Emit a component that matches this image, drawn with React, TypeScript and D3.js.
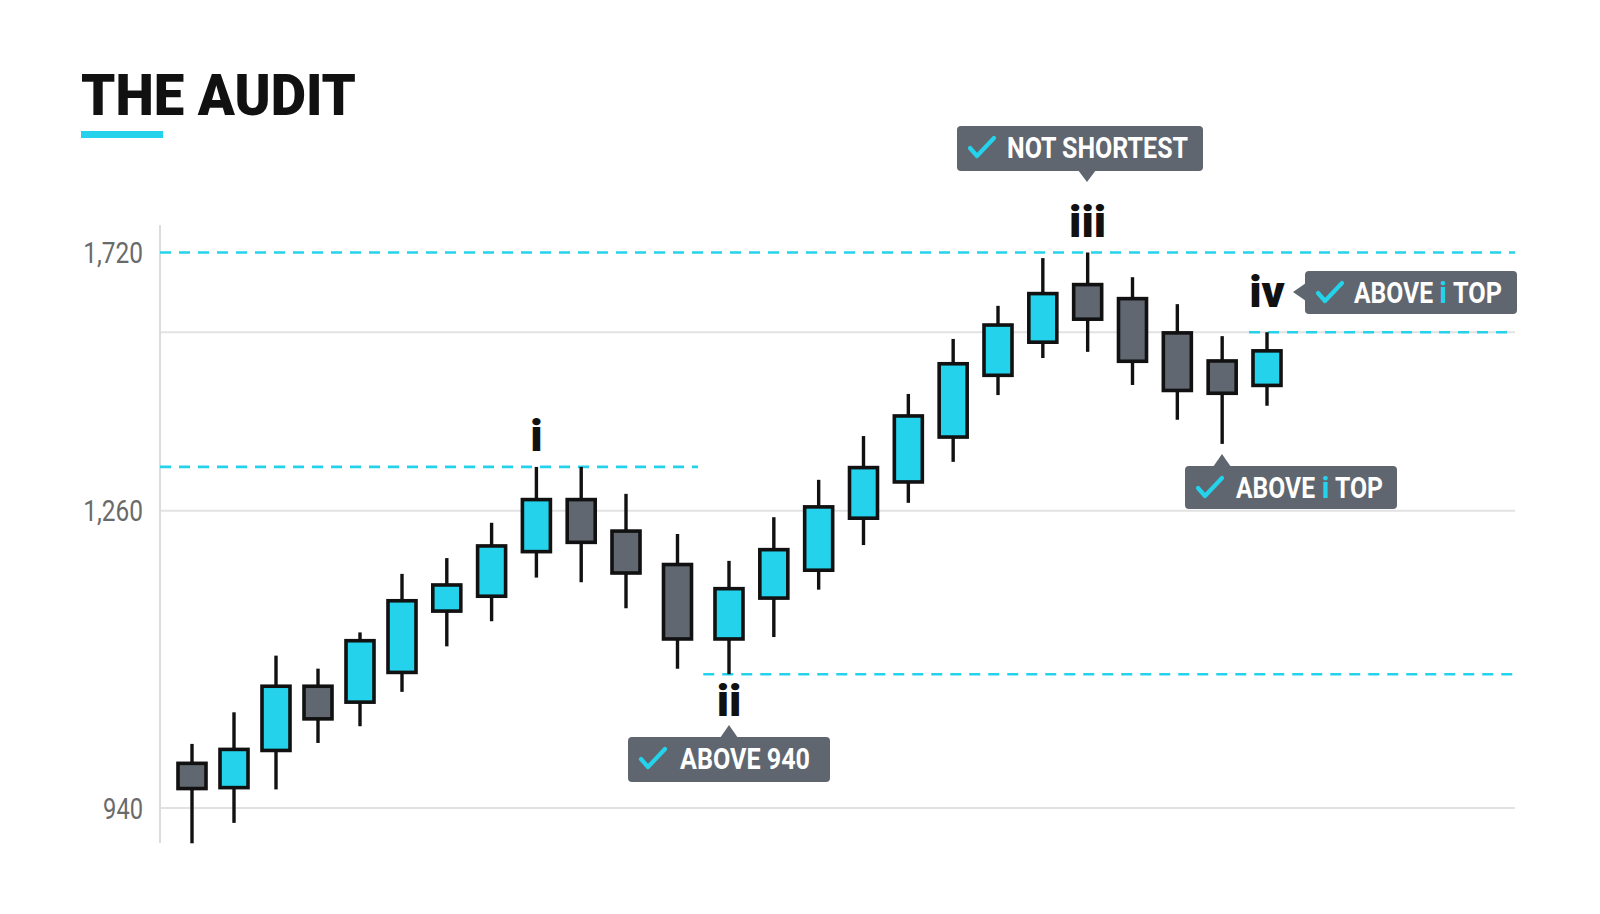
import React from "react";
import * as d3 from "d3";

// ---- data ----
const candleIndex = d3.range(25);
const opens = [990, 960, 1000, 1073, 1052, 1084, 1150, 1166, 1214, 1283, 1240, 1204, 1120, 1164, 1194, 1250, 1308, 1388, 1498, 1557, 1666, 1641, 1580, 1530, 1480];
const highs = [1009, 1043, 1104, 1090, 1129, 1192, 1209, 1247, 1338, 1338, 1290, 1235, 1206, 1253, 1315, 1393, 1468, 1566, 1625, 1710, 1720, 1676, 1628, 1571, 1578];
const lows = [902, 924, 960, 1010, 1028, 1065, 1114, 1141, 1188, 1183, 1155, 1090, 1084, 1124, 1175, 1223, 1274, 1347, 1466, 1532, 1543, 1484, 1422, 1379, 1447];
const closes = [959, 1005, 1073, 1034, 1122, 1165, 1182, 1224, 1283, 1224, 1191, 1120, 1178, 1220, 1270, 1340, 1432, 1525, 1594, 1650, 1598, 1523, 1471, 1466, 1548];

const yTickValues = [940, 1260, 1720];
const gridValues = [940, 1260, 1578];

const waveLabels = ["i", "ii", "iii", "iv"];
const waveCandles = [8, 12, 20, 24];

const levelValues = [1720, 1338, 1084, 1578];

// callout texts: each part = [text, highlighted]
const calloutParts: [string, boolean][][] = [
  [["NOT SHORTEST", false]],
  [["ABOVE 940", false]],
  [["ABOVE", false], ["i", true], ["TOP", false]],
  [["ABOVE", false], ["i", true], ["TOP", false]],
];

// ---- layout / style ----
const W = 1600;
const H = 914;
const PLOT_LEFT = 160;
const PLOT_RIGHT = 1515;
const CYAN = "#24d3eb";
const GREY = "#606771";
const BOX = "#60666f";
const FONT = "Roboto, 'Noto Sans', sans-serif";

const y = d3.scaleLinear().domain([940, 1260, 1720]).range([808, 510.7, 252.5]);
const x = d3.scaleLinear().domain([0, 5, 10, 12, 24]).range([192, 402, 626, 729, 1267]);
const fmt = d3.format(",");

const BODY_W = 28;
const STROKE = 3.6;

// level line extents (in candle-index units, null = plot edge)
const levelExtents: [number | null, number | null][] = [
  [null, null],
  [null, 11.4],
  [11.5, null],
  [23.6, null],
];

// callout boxes and text-part offsets/lengths (len 0 = natural width, centred)
const calloutLayout = [
  { bx: 957, by: 126, bw: 246, bh: 45, side: "down", px: 1087, py: 0, offs: [50], lens: [181] },
  { bx: 628, by: 737, bw: 202, bh: 45, side: "up", px: 729, py: 0, offs: [52], lens: [130] },
  { bx: 1305, by: 271, bw: 212, bh: 43, side: "left", px: 0, py: 292, offs: [49, 138, 148], lens: [79, 0, 49] },
  { bx: 1185, by: 466, bw: 212, bh: 43, side: "up", px: 1222, py: 0, offs: [51, 140.5, 150], lens: [79, 0, 48] },
];

function Callout({ i }: { i: number }) {
  const L = calloutLayout[i];
  const parts = calloutParts[i];
  let tri = "";
  if (L.side === "down") {
    const b = L.by + L.bh;
    tri = `M${L.px - 9},${b - 1} L${L.px + 9},${b - 1} L${L.px},${b + 11} Z`;
  } else if (L.side === "up") {
    tri = `M${L.px - 9},${L.by + 1} L${L.px + 9},${L.by + 1} L${L.px},${L.by - 12} Z`;
  } else {
    tri = `M${L.bx + 1},${L.py - 9} L${L.bx + 1},${L.py + 9} L${L.bx - 12},${L.py} Z`;
  }
  const cx = L.bx + 13;
  const cy = L.by + 11;
  return (
    <g>
      <rect x={L.bx} y={L.by} width={L.bw} height={L.bh} rx={4} fill={BOX} />
      <path d={tri} fill={BOX} />
      <path
        d={`M${cx},${cy + 11} L${cx + 7},${cy + 19} L${cx + 24},${cy + 1}`}
        fill="none"
        stroke={CYAN}
        strokeWidth={4.2}
        strokeLinecap="round"
        strokeLinejoin="round"
      />
      {parts.map((p, k) => {
        const len = L.lens[k];
        return (
          <text
            key={k}
            x={L.bx + L.offs[k]}
            y={L.by + 32}
            fontFamily={FONT}
            fontWeight={700}
            fontSize={29}
            fill={p[1] ? CYAN : "#ffffff"}
            textAnchor={len ? "start" : "middle"}
            {...(len ? { textLength: len, lengthAdjust: "spacingAndGlyphs" } : {})}
          >
            {p[0]}
          </text>
        );
      })}
    </g>
  );
}

function labelLen(s: string) {
  const digits = s.replace(/[^0-9]/g, "").length;
  const commas = s.length - digits;
  return digits * 13.3 + commas * 6.5;
}

export default function App() {
  return (
    <svg
      width={W}
      height={H}
      viewBox={`0 0 ${W} ${H}`}
      style={{ position: "fixed", left: 0, top: 0, background: "#ffffff" }}
    >
      <rect width={W} height={H} fill="#ffffff" />
      {/* title */}
      <text x={81} y={115} fontFamily={FONT} fontWeight={900} fontSize={58} fill="#111111" textLength={275} lengthAdjust="spacingAndGlyphs">
        THE AUDIT
      </text>
      <rect x={81} y={131} width={82} height={7} fill={CYAN} />

      {/* gridlines */}
      {gridValues.map((v) => (
        <line key={v} x1={PLOT_LEFT} x2={PLOT_RIGHT} y1={y(v)} y2={y(v)} stroke="#e2e2e2" strokeWidth={2} />
      ))}
      {/* y axis */}
      <line x1={PLOT_LEFT} x2={PLOT_LEFT} y1={225} y2={843} stroke="#dcdcdc" strokeWidth={2} />
      {yTickValues.map((v) => {
        const s = fmt(v);
        return (
          <text
            key={v}
            x={143}
            y={y(v) + 10.5}
            textAnchor="end"
            fontFamily={FONT}
            fontWeight={400}
            fontSize={29}
            fill="#6a6a6a"
            textLength={labelLen(s)}
            lengthAdjust="spacingAndGlyphs"
          >
            {s}
          </text>
        );
      })}

      {/* level lines */}
      {levelValues.map((v, k) => {
        const [a, b] = levelExtents[k];
        return (
          <line
            key={k}
            x1={a === null ? PLOT_LEFT : x(a)}
            x2={b === null ? PLOT_RIGHT : x(b)}
            y1={y(v)}
            y2={y(v)}
            stroke={CYAN}
            strokeWidth={2.6}
            strokeDasharray="11 8"
          />
        );
      })}

      {/* candles */}
      {candleIndex.map((i) => {
        const o = opens[i];
        const c = closes[i];
        const up = c >= o;
        const top = y(Math.max(o, c));
        const bot = y(Math.min(o, c));
        const cxp = x(i);
        return (
          <g key={i}>
            <line x1={cxp} x2={cxp} y1={y(highs[i])} y2={y(lows[i])} stroke="#111111" strokeWidth={3.4} />
            <rect
              x={cxp - BODY_W / 2}
              y={top + STROKE / 2}
              width={BODY_W}
              height={Math.max(1, bot - top - STROKE)}
              fill={up ? CYAN : GREY}
              stroke="#111111"
              strokeWidth={STROKE}
            />
          </g>
        );
      })}

      {/* wave labels */}
      {waveLabels.map((lab, k) => {
        const i = waveCandles[k];
        const below = lab === "ii";
        const yy = below ? y(lows[i]) + 42 : y(highs[i]) - (lab === "iv" ? 25 : 16);
        return (
          <text
            key={lab}
            x={x(i)}
            y={yy}
            textAnchor="middle"
            fontFamily={FONT}
            fontWeight={900}
            fontSize={45}
            fill="#111111"
          >
            {lab}
          </text>
        );
      })}

      {/* callouts */}
      {calloutLayout.map((_, k) => (
        <Callout key={k} i={k} />
      ))}
    </svg>
  );
}
